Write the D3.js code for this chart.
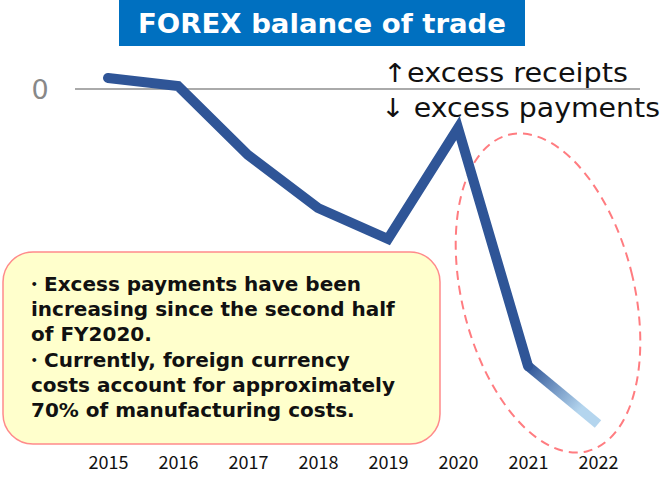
<!DOCTYPE html>
<html><head><meta charset="utf-8">
<script src="https://cdn.jsdelivr.net/npm/d3@7"></script>
<style>body{margin:0;background:#fff}svg{display:block}</style>
</head><body>
<svg id="c" width="663" height="477"></svg>
<script>
const years = ["2015","2016","2017","2018","2019","2020","2021","2022"];
const balance = [1.1, 0.3, -6.6, -11.9, -15.0, -3.9, -27.7, -33.5];
const yTicks = [0];
const title = "FOREX balance of trade";
const noteLines = ["・Excess payments have been","increasing since the second half","of FY2020.","・Currently, foreign currency","costs account for approximately","70% of manufacturing costs."];
const legendUp = "↑excess receipts";
const legendDown = "↓ excess payments";

const svg = d3.select("#c");
const x = d3.scalePoint().domain(years).range([108, 598]);
const y = d3.scaleLinear().domain([0, -35]).range([89, 439]);
const jp = "'Noto Sans CJK JP','DejaVu Sans',sans-serif";
const dv = "'DejaVu Sans','Noto Sans',sans-serif";

// title
svg.append("rect").attr("x",119).attr("y",0).attr("width",406).attr("height",46).attr("fill","#0070C0");
svg.append("text").attr("x",322).attr("y",33).attr("text-anchor","middle").attr("fill","#fff")
  .attr("font-family",dv).attr("font-weight","bold").attr("font-size",26).attr("textLength",368)
  .attr("lengthAdjust","spacingAndGlyphs").text(title);

// zero line + label
svg.selectAll(".zl").data(yTicks).join("line").attr("x1",75).attr("x2",640)
  .attr("y1",d=>y(d)).attr("y2",d=>y(d)).attr("stroke","#aaaaaa").attr("stroke-width",2);
svg.selectAll(".zt").data(yTicks).join("text").attr("x",40).attr("y",d=>y(d)+10).attr("text-anchor","middle")
  .attr("fill","#888").attr("font-family",dv).attr("font-size",27).text(d=>d);

// legend text
svg.append("text").attr("x",383).attr("y",82).attr("font-family",dv).attr("font-size",26).attr("fill","#111")
  .attr("textLength",245).attr("lengthAdjust","spacingAndGlyphs").text(legendUp);
svg.append("text").attr("x",381).attr("y",117).attr("font-family",dv).attr("font-size",26).attr("fill","#111")
  .attr("textLength",279).attr("lengthAdjust","spacingAndGlyphs").text(legendDown);

// ellipse
svg.append("ellipse").attr("cx",0).attr("cy",0).attr("rx",86).attr("ry",163)
  .attr("transform","translate(548,293) rotate(-14)")
  .attr("fill","none").attr("stroke","#FF7C80").attr("stroke-width",2).attr("stroke-dasharray","9,6");

// gradient for last segment
const defs = svg.append("defs");
const n = years.length;
const g = defs.append("linearGradient").attr("id","fade").attr("gradientUnits","userSpaceOnUse")
  .attr("x1",x(years[n-2])).attr("y1",y(balance[n-2])).attr("x2",x(years[n-1])).attr("y2",y(balance[n-1]));
g.append("stop").attr("offset","0").attr("stop-color","#2F5597");
g.append("stop").attr("offset","0.75").attr("stop-color","#B4D5EE");
g.append("stop").attr("offset","1").attr("stop-color","#B4D5EE");

const pts = years.map((yr,i)=>[x(yr), y(balance[i])]);
const line = d3.line();
svg.append("path").attr("d", line(pts.slice(n-2))).attr("fill","none").attr("stroke","url(#fade)")
  .attr("stroke-width",10).attr("stroke-linecap","butt");
svg.append("path").attr("d", line(pts.slice(0,n-1))).attr("fill","none").attr("stroke","#2F5597")
  .attr("stroke-width",10).attr("stroke-linejoin","miter").attr("stroke-linecap","round");

// callout box
svg.append("rect").attr("x",3).attr("y",252).attr("width",437).attr("height",192).attr("rx",30).attr("ry",30)
  .attr("fill","#FFFFCC").attr("stroke","#FF8B8B").attr("stroke-width",1.5);
const t = svg.append("text").attr("font-family",dv).attr("font-weight","bold").attr("font-size",20).attr("fill","#111");
noteLines.forEach((s,i)=>{
  t.append("tspan").attr("x", s.startsWith("・") ? 24 : 31).attr("y", 291 + i*25.2).text(s);
});

// x axis
const xa = svg.append("g").attr("transform","translate(0,473)").call(d3.axisBottom(x).tickSize(0).tickPadding(0));
xa.select(".domain").remove();
xa.selectAll("text").attr("font-family",jp).attr("font-size",18).attr("fill","#111").attr("dy","-0.2em");
</script>
</body></html>
